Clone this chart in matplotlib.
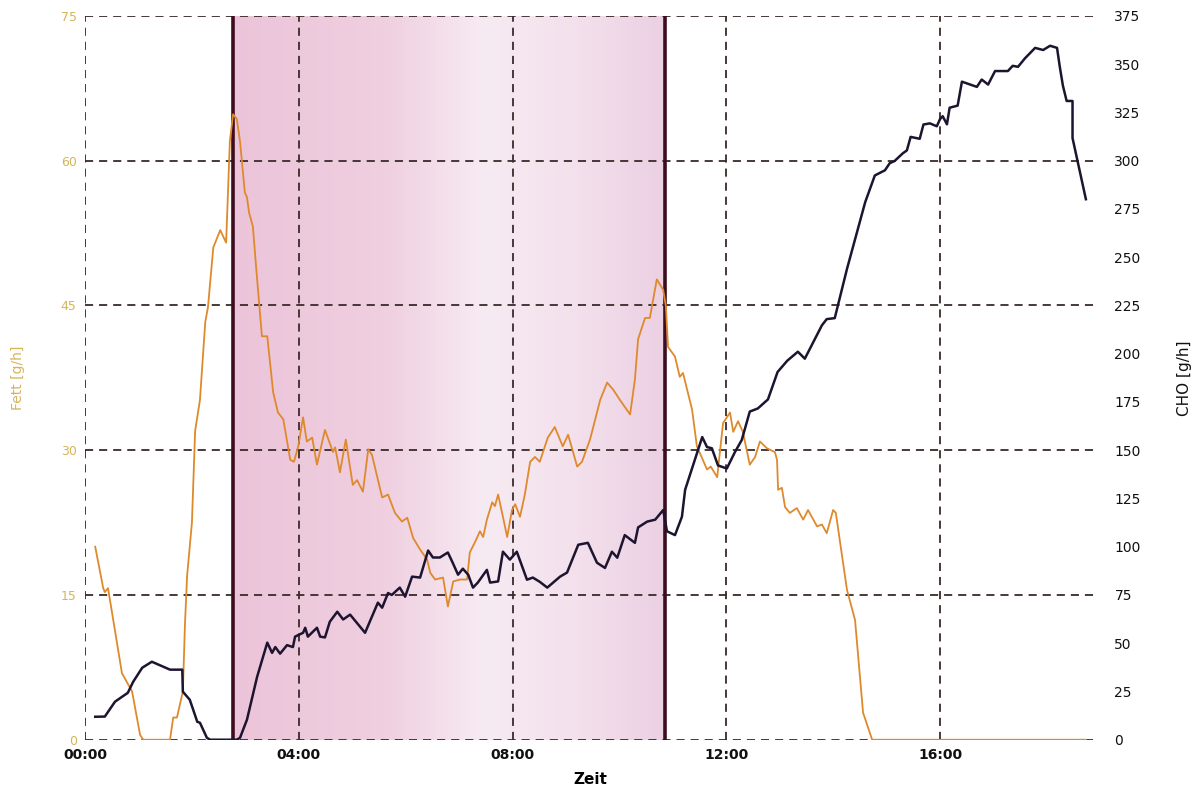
import numpy as np
import matplotlib.pyplot as plt
from matplotlib.colors import LinearSegmentedColormap

# Fett (g/h) over time (min)
fett_t = [0.19, 0.34, 0.37, 0.43, 0.69, 0.88, 1.03, 1.09, 1.59, 1.65, 1.72, 1.83, 1.87, 1.91,
          2.00, 2.06, 2.15, 2.25, 2.30, 2.40, 2.53, 2.64, 2.71, 2.77, 2.84, 2.90, 2.99, 3.03,
          3.07, 3.14, 3.22, 3.31, 3.41, 3.52, 3.61, 3.71, 3.84, 3.91, 3.99, 4.08, 4.15, 4.25,
          4.34, 4.49, 4.64, 4.68, 4.77, 4.88, 5.01, 5.09, 5.20, 5.30, 5.37, 5.56, 5.67, 5.80,
          5.93, 6.03, 6.14, 6.27, 6.40, 6.46, 6.55, 6.70, 6.79, 6.89, 7.02, 7.15, 7.20, 7.30,
          7.39, 7.45, 7.52, 7.62, 7.67, 7.73, 7.82, 7.90, 7.99, 8.05, 8.14, 8.23, 8.33, 8.42,
          8.51, 8.66, 8.79, 8.94, 9.04, 9.21, 9.30, 9.45, 9.64, 9.77, 9.88, 10.01, 10.20, 10.29,
          10.35, 10.48, 10.57, 10.70, 10.82, 10.87, 10.91, 11.04, 11.13, 11.19, 11.36, 11.45,
          11.64, 11.71, 11.83, 11.94, 12.07, 12.13, 12.22, 12.31, 12.44, 12.54, 12.63, 12.76,
          12.91, 12.95, 12.97, 13.04, 13.10, 13.19, 13.32, 13.44, 13.53, 13.70, 13.79, 13.88,
          14.00, 14.05, 14.26, 14.41, 14.56, 14.73, 18.73]
fett = [20.0, 15.7, 15.3, 15.7, 6.9, 5.0, 0.5, 0.0, 0.0, 2.3, 2.3, 5.0, 12.0, 17.0,
        22.5, 32.0, 35.2, 43.3, 44.8, 51.0, 52.8, 51.5, 62.0, 64.8, 64.3, 62.0, 56.7, 56.2,
        54.6, 53.2, 47.7, 41.8, 41.8, 36.0, 33.9, 33.2, 29.0, 28.8, 30.4, 33.4, 30.9, 31.3,
        28.5, 32.1, 29.8, 30.3, 27.7, 31.1, 26.4, 26.9, 25.7, 30.1, 29.5, 25.1, 25.4, 23.5,
        22.6, 23.0, 20.9, 19.7, 18.7, 17.3, 16.6, 16.8, 13.8, 16.4, 16.6, 16.6, 19.4, 20.5,
        21.6, 21.0, 22.8, 24.6, 24.2, 25.4, 23.1, 21.0, 23.8, 24.4, 23.1, 25.4, 28.8, 29.3,
        28.8, 31.3, 32.4, 30.4, 31.6, 28.3, 28.8, 31.1, 35.2, 37.0, 36.3, 35.2, 33.7, 37.3,
        41.5, 43.7, 43.7, 47.7, 46.6, 44.9, 40.7, 39.7, 37.6, 38.0, 34.2, 30.4,
        28.0, 28.3, 27.2, 32.8, 33.9, 31.9, 33.0, 31.9, 28.5, 29.3, 30.9, 30.2,
        29.8, 29.0, 25.9, 26.1, 24.1, 23.5, 24.0, 22.8, 23.8, 22.1, 22.3, 21.4,
        23.8, 23.5, 15.5, 12.4, 2.8, 0.0, 0.0]

# CHO (g/h) over time (min)
cho_t = [0.19, 0.37, 0.56, 0.80, 0.90, 1.07, 1.25, 1.59, 1.82, 1.83, 1.96, 2.10, 2.15, 2.28,
         2.34, 2.84, 2.90, 3.03, 3.22, 3.41, 3.50, 3.56, 3.65, 3.78, 3.89, 3.93, 4.08, 4.12,
         4.17, 4.34, 4.40, 4.49, 4.58, 4.72, 4.83, 4.96, 5.24, 5.48, 5.56, 5.67, 5.74, 5.89,
         5.99, 6.12, 6.27, 6.42, 6.51, 6.64, 6.79, 6.88, 6.98, 7.07, 7.17, 7.26, 7.35, 7.52,
         7.58, 7.73, 7.82, 7.95, 8.08, 8.27, 8.38, 8.51, 8.65, 8.89, 9.02, 9.23, 9.41, 9.58,
         9.73, 9.86, 9.96, 10.10, 10.29, 10.35, 10.52, 10.67, 10.82, 10.89, 11.04, 11.17,
         11.23, 11.55, 11.64, 11.73, 11.79, 11.845, 12.01, 12.16, 12.29, 12.44, 12.59, 12.78,
         12.96, 13.14, 13.34, 13.47, 13.79, 13.88, 14.03, 14.26, 14.60, 14.78, 14.97, 15.06,
         15.15, 15.30, 15.38, 15.45, 15.62, 15.69, 15.81, 15.94, 16.00, 16.05, 16.13, 16.18,
         16.33, 16.41, 16.69, 16.78, 16.90, 17.03, 17.27, 17.36, 17.46, 17.59, 17.78, 17.93,
         18.06, 18.19, 18.24, 18.30, 18.37, 18.48, 18.48, 18.73]
cho = [11.9, 12.0, 19.7, 24.3, 30.0, 37.3, 40.4, 36.3, 36.3, 24.9, 20.7, 9.3, 8.8, 1.0,
       0.0, 0.0, 1.0, 10.4, 32.6, 50.3, 45.0, 48.0, 44.6, 49.0, 48.0, 53.4, 55.4, 58.0,
       53.4, 58.0, 53.4, 53.0, 61.1, 66.3, 62.3, 64.8, 55.4, 71.0, 68.4, 76.0, 75.0, 78.8,
       74.1, 84.5, 84.0, 98.0, 94.4, 94.4, 97.0, 91.7, 85.5, 88.6, 85.5, 78.8, 81.4, 88.0,
       81.4, 82.0, 97.4, 93.3, 97.4, 82.9, 84.0, 81.8, 78.8, 84.5, 86.6, 101.0, 102.0, 91.7,
       89.0, 97.4, 94.3, 106.0, 102.0, 110.0, 113.0, 114.0, 119.0, 108.0, 106.0, 115.5,
       129.5, 156.8, 151.6, 151.0, 146.3, 142.1, 140.5, 148.9, 155.3, 170.0, 171.6, 176.3,
       190.5, 196.3, 201.0, 197.4, 214.7, 217.9, 218.4, 244.0, 278.5, 292.3, 295.0, 298.7,
       299.8, 303.7, 305.3, 312.3, 311.3, 318.7, 319.3, 317.8, 321.5, 323.0, 318.8, 327.4,
       328.5, 340.9, 338.2, 342.0, 339.4, 346.4, 346.4, 349.1, 348.6, 353.0, 358.4, 357.3,
       359.5, 358.4, 348.9, 338.8, 330.9, 330.9, 311.7, 280.0]

# belastungsphase (shaded)
phase = (2.77, 10.85)

x_ticks = [0, 4, 8, 12, 16]
x_labels = ['00:00', '04:00', '08:00', '12:00', '16:00']
fett_ticks = [0, 15, 30, 45, 60, 75]
cho_ticks = list(range(0, 376, 25))

gold = '#d6b45a'
orange = '#de8a2c'
navy = '#1d1430'
gridc = '#3a2a2a'
dash = (0, (4.5, 3.3))

fig = plt.figure(figsize=(11.98, 7.92), dpi=100)
ax = fig.add_axes([0.071, 0.066, 0.843, 0.914])
ax2 = ax.twinx()

# pink background of the phase with a soft left-to-right fade
pink = LinearSegmentedColormap.from_list('pink', [(0.0, '#ecc4d9'), (0.35, '#efcfe0'),
                                                   (0.58, '#f7ebf3'), (0.8, '#f3e0ec'),
                                                   (1.0, '#ecd0e3')])
grad = np.linspace(0, 1, 256).reshape(1, -1)
ax.imshow(grad, cmap=pink, extent=[phase[0], phase[1], 0, 75], aspect='auto', zorder=0)
for xv in phase:
    ax.plot([xv, xv], [0, 75], color='#3d0c1e', lw=2.6, zorder=3, solid_capstyle='butt')

# grid
for yv in fett_ticks:
    ax.axhline(yv, color=gridc, lw=1.3, ls=dash, zorder=1)
for xv in x_ticks[1:]:
    ax.axvline(xv, color=gridc, lw=1.3, ls=dash, zorder=1)
ax.axvline(0, color=gridc, lw=1.3, ls=dash, zorder=1)

ax.plot(fett_t, fett, color=orange, lw=1.3, zorder=4)
ax2.plot(cho_t, cho, color=navy, lw=1.8, zorder=5)

ax.set_xlim(0, 18.9)
ax.set_ylim(0, 75)
ax2.set_ylim(0, 375)

for a in (ax, ax2):
    for s in a.spines.values():
        s.set_visible(False)

ax.set_xticks(x_ticks)
ax.set_xticklabels(x_labels, fontsize=10, fontweight='bold', color='#111111')
ax.set_yticks(fett_ticks)
ax.set_yticklabels([str(v) for v in fett_ticks], fontsize=9, color=gold)
ax.tick_params(axis='both', length=0, pad=6)
ax2.set_yticks(cho_ticks)
ax2.set_yticklabels([str(v) for v in cho_ticks], fontsize=10, color='#111111')
ax2.tick_params(axis='y', length=0, pad=14)

ax.set_xlabel('Zeit', fontsize=11, fontweight='bold', labelpad=7)
ax.set_ylabel('Fett [g/h]', fontsize=10, color=gold, labelpad=26)
ax2.set_ylabel('CHO [g/h]', fontsize=11, color='#111111', labelpad=26)

fig.savefig('out.png', dpi=100)
